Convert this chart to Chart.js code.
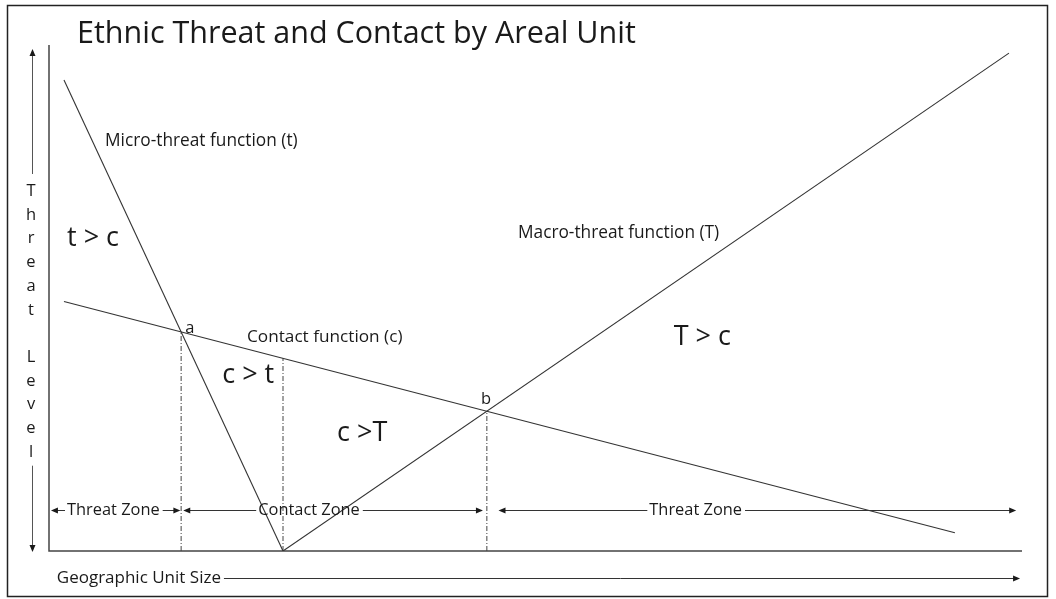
<!DOCTYPE html>
<html>
<head>
<meta charset="utf-8">
<script src="https://cdn.jsdelivr.net/npm/chart.js@4/dist/chart.umd.min.js"></script>
<style>
  html, body { margin: 0; padding: 0; background: #fff; }
  #wrap { width: 1056px; height: 599px; }
</style>
</head>
<body>
<div id="wrap"><canvas id="chart"></canvas></div>
<script>
// the three functions (x = unit size, y = threat level, both 0..100)
const microThreat = [{ x: 1.54, y: 93.1 }, { x: 24.05, y: 0 }];
const contact = [{ x: 1.54, y: 49.3 }, { x: 93.1, y: 3.6 }];
const macroThreat = [{ x: 24.05, y: 0 }, { x: 98.66, y: 98.4 }];

// crossing points and the drop lines under them
const pointA = { x: 13.58, y: 43.3 };
const pointB = { x: 45.0, y: 27.6 };
const dropLines = [
  [{ x: 13.58, y: 0 }, { x: 13.58, y: 43.3 }],
  [{ x: 24.05, y: 0 }, { x: 24.05, y: 38.1 }],
  [{ x: 45.0, y: 0 }, { x: 45.0, y: 27.6 }],
];

// zones along the bottom
const zoneNames = ['Threat Zone', 'Contact Zone', 'Threat Zone'];
const zoneFrom = [0.2, 13.8, 46.2];
const zoneTo = [13.5, 44.6, 99.4];

const titleText = 'Ethnic Threat and Contact by Areal Unit';
const xAxisText = 'Geographic Unit Size';
const yAxisText = 'Threat Level';

const FONT = '"Open Sans", Lato, sans-serif';

// text placement (data coords, left edge / vertical middle)
const notes = [
  { text: 'Micro-threat function (t)', x: 5.76, y: 81.0, size: 17.3 },
  { text: 't > c', x: 1.85, y: 61.7, size: 27 },
  { text: 'a', x: 14.0, y: 44.1, size: 16.5 },
  { text: 'Contact function (c)', x: 20.35, y: 42.3, size: 17.2 },
  { text: 'c > t', x: 17.8, y: 34.8, size: 27 },
  { text: 'c >T', x: 29.6, y: 23.3, size: 27 },
  { text: 'b', x: 44.4, y: 30.0, size: 16.5 },
  { text: 'Macro-threat function (T)', x: 48.2, y: 62.8, size: 17.3 },
  { text: 'T > c', x: 64.2, y: 42.3, size: 27 },
];
const zoneLabelX = [1.85, 21.5, 61.7];
const zoneY = 8.1;

function arrowHead(ctx, px, py, dir) {
  const len = 7, half = 3;
  ctx.beginPath();
  if (dir === 'right') { ctx.moveTo(px, py); ctx.lineTo(px - len, py - half); ctx.lineTo(px - len, py + half); }
  if (dir === 'left') { ctx.moveTo(px, py); ctx.lineTo(px + len, py - half); ctx.lineTo(px + len, py + half); }
  if (dir === 'up') { ctx.moveTo(px, py); ctx.lineTo(px - half, py + len); ctx.lineTo(px + half, py + len); }
  if (dir === 'down') { ctx.moveTo(px, py); ctx.lineTo(px - half, py - len); ctx.lineTo(px + half, py - len); }
  ctx.closePath();
  ctx.fill();
}

function hLine(ctx, x1, x2, py) {
  ctx.beginPath();
  ctx.moveTo(x1, py);
  ctx.lineTo(x2, py);
  ctx.stroke();
}

const diagram = {
  id: 'diagram',
  beforeDatasetsDraw(chart) {
    const { ctx, chartArea: area, scales: { x, y } } = chart;
    ctx.save();
    // frame
    ctx.strokeStyle = '#222';
    ctx.lineWidth = 1.5;
    ctx.strokeRect(7.5, 5.5, 1040, 591);
    // axes
    ctx.strokeStyle = '#444';
    ctx.beginPath();
    ctx.moveTo(x.getPixelForValue(0), area.top);
    ctx.lineTo(x.getPixelForValue(0), y.getPixelForValue(0));
    ctx.lineTo(x.getPixelForValue(100), y.getPixelForValue(0));
    ctx.stroke();
    ctx.restore();
  },
  afterDatasetsDraw(chart) {
    const { ctx, chartArea: area, scales: { x, y } } = chart;
    ctx.save();
    ctx.fillStyle = '#1a1a1a';
    ctx.strokeStyle = '#333';
    ctx.lineWidth = 1;
    ctx.textAlign = 'left';

    // title
    ctx.textBaseline = 'alphabetic';
    ctx.font = '30.5px ' + FONT;
    ctx.fillText(titleText, area.left + 28, area.top - 2);

    // labels in the plot
    ctx.textBaseline = 'middle';
    notes.forEach(n => {
      ctx.font = n.size + 'px ' + FONT;
      ctx.fillText(n.text, x.getPixelForValue(n.x), y.getPixelForValue(n.y));
    });

    // zone arrows
    ctx.font = '16.4px ' + FONT;
    const zy = Math.round(y.getPixelForValue(zoneY)) + 0.5;
    zoneNames.forEach((name, i) => {
      const x1 = x.getPixelForValue(zoneFrom[i]);
      const x2 = x.getPixelForValue(zoneTo[i]);
      const tx = x.getPixelForValue(zoneLabelX[i]);
      const tw = ctx.measureText(name).width;
      hLine(ctx, x1 + 3, tx - 2, zy);
      hLine(ctx, tx + tw + 3, x2 - 3, zy);
      ctx.fillText(name, tx, zy);
      arrowHead(ctx, x1, zy, 'left');
      arrowHead(ctx, x2, zy, 'right');
    });

    // x axis caption with arrow
    ctx.font = '17px ' + FONT;
    const gy = area.bottom + 27.5;
    const gx = x.getPixelForValue(0.8);
    ctx.fillText(xAxisText, gx, gy);
    const gw = ctx.measureText(xAxisText).width;
    const gEnd = x.getPixelForValue(99.8);
    hLine(ctx, gx + gw + 3, gEnd - 3, gy);
    arrowHead(ctx, gEnd, gy, 'right');

    // y axis caption, letters stacked, arrows above and below
    ctx.font = '16.5px ' + FONT;
    const lx = area.left - 18;
    const step = 23.7;
    const firstBase = 196;
    ctx.textAlign = 'center';
    ctx.textBaseline = 'alphabetic';
    yAxisText.split('').forEach((ch, i) => {
      if (ch !== ' ') ctx.fillText(ch, lx, firstBase + i * step);
    });
    const lastBase = firstBase + (yAxisText.length - 1) * step;
    ctx.strokeStyle = '#555';
    const ax = lx + 1.5;
    ctx.beginPath();
    ctx.moveTo(ax, area.top + 8);
    ctx.lineTo(ax, firstBase - 22);
    ctx.moveTo(ax, lastBase + 9);
    ctx.lineTo(ax, area.bottom - 4);
    ctx.stroke();
    arrowHead(ctx, ax, area.top + 4, 'up');
    arrowHead(ctx, ax, area.bottom + 1, 'down');
    ctx.restore();
  }
};

const lineStyle = { showLine: true, pointRadius: 0, borderColor: '#333', borderWidth: 1.1, fill: false };
const dropStyle = { showLine: true, pointRadius: 0, borderColor: '#444', borderWidth: 1, borderDash: [5, 2, 1, 2], fill: false };

new Chart(document.getElementById('chart'), {
  type: 'scatter',
  data: {
    datasets: [
      { label: 'Micro-threat function (t)', data: microThreat, ...lineStyle },
      { label: 'Contact function (c)', data: contact, ...lineStyle },
      { label: 'Macro-threat function (T)', data: macroThreat, ...lineStyle },
      ...dropLines.map((d, i) => ({ label: 'drop ' + i, data: d, ...dropStyle })),
    ],
  },
  options: {
    responsive: true,
    maintainAspectRatio: false,
    animation: false,
    layout: { padding: { left: 49, right: 34, top: 45, bottom: 48 } },
    scales: {
      x: { type: 'linear', min: 0, max: 100, display: false },
      y: { type: 'linear', min: 0, max: 100, display: false },
    },
    plugins: {
      legend: { display: false },
      tooltip: { enabled: false },
      title: { display: false },
    },
  },
  plugins: [diagram],
});
</script>
</body>
</html>
